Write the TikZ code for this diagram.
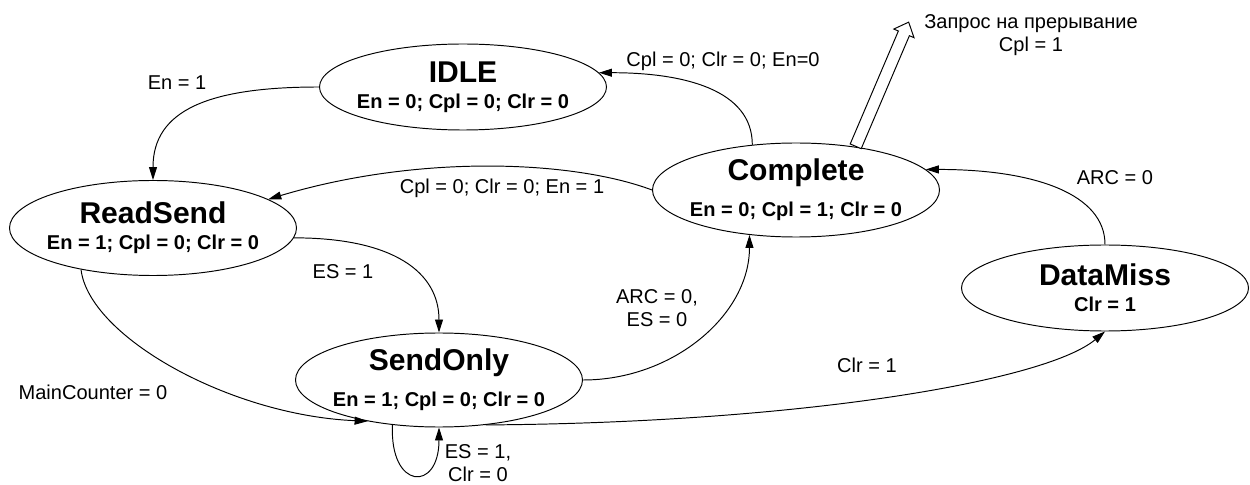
\documentclass[tikz,border=0pt]{standalone}
\usepackage{fontspec}
\setmainfont{Liberation Sans}
\usetikzlibrary{arrows.meta,shapes.geometric,shapes.arrows}

\newcommand{\stname}[1]{{\fontsize{17.1}{15}\selectfont\bfseries #1}}

\begin{document}
\begin{tikzpicture}[
  x=0.2mm, y=0.2mm,
  state/.style={ellipse, draw, line width=0.55pt, inner sep=-0.3cm,
                align=center, font=\fontsize{11.4}{15}\selectfont\bfseries,
                minimum width=5.74cm, minimum height=1.88cm},
  lbl/.style={align=center, font=\fontsize{11.4}{13.1}\selectfont,
              inner sep=0pt},
  arr/.style={draw, line width=0.55pt,
              -{Triangle[length=2.6mm,width=1.6mm]}},
  irqarrow/.style={single arrow, draw, line width=0.55pt, fill=white,
                   inner xsep=0pt, inner ysep=0.11cm, minimum height=2.7cm,
                   single arrow head extend=0.1cm, single arrow tip angle=84}
]
\useasboundingbox (0,0) rectangle (1250,484);

% states
\node[state, minimum height=1.72cm] (idle) at (463,397)
  {\stname{IDLE}\\En = 0; Cpl = 0; Clr = 0};
\node[state, minimum height=1.9cm] (readsend) at (153,256)
  {\stname{ReadSend}\\En = 1; Cpl = 0; Clr = 0};
\node[state] (sendonly) at (439,104)
  {\stname{SendOnly}\\[5.7pt]En = 1; Cpl = 0; Clr = 0};
\node[state] (complete) at (796,294)
  {\stname{Complete}\\[5.7pt]En = 0; Cpl = 1; Clr = 0};
\node[state, minimum height=1.72cm] (datamiss) at (1105,196)
  {\stname{DataMiss}\\Clr = 1};

% interrupt request
\node[irqarrow, rotate=66.9, anchor=tail] (irq) at (complete.36) {};
\node[lbl] (irqtxt) at (1031,449) {Запрос на прерывание\\Cpl = 1};

% transitions
\draw[arr] (idle.west) .. controls +(-110,0) and +(0,70) .. (readsend.north);
\draw[arr] (complete.134) .. controls +(0,55) and +(85,0) .. (idle.6);
\draw[arr] (complete.west) .. controls +(-80,30) and +(150,45) .. (readsend.14);
\draw[arr] (readsend.-4) .. controls +(100,0) and +(0,60) .. (sendonly.north);
\draw[arr] (sendonly.east) .. controls +(90,0) and +(0,-80) .. (complete.-136);
\draw[arr] (readsend.-150) .. controls +(8,-67) and +(-138,6) .. (sendonly.-150);
\draw[arr] (datamiss.north) .. controls +(0,50) and +(110,0) .. (complete.9);
\draw[arr] (sendonly.-44) .. controls +(313,2) and +(-60,-50) .. (datamiss.south);
\draw[arr] (sendonly.-136) .. controls +(-3,-65) and +(0,-65) .. (sendonly.south);

% conditions
\node[lbl] (enone)   at (177,401) {En = 1};
\node[lbl] (toidle)  at (723,423) {Cpl = 0; Clr = 0; En=0};
\node[lbl] (torsend) at (502,296) {Cpl = 0; Clr = 0; En = 1};
\node[lbl] (arczero) at (1115,306) {ARC = 0};
\node[lbl] (esone)   at (343,212) {ES = 1};
\node[lbl] (arces)   at (657,176) {ARC = 0,\\ES = 0};
\node[lbl] (mainctr) at (93,92) {MainCounter = 0};
\node[lbl] (clrone)  at (867,119) {Clr = 1};
\node[lbl] (esclr)   at (478,21) {ES = 1,\\Clr = 0};
\end{tikzpicture}
\end{document}
